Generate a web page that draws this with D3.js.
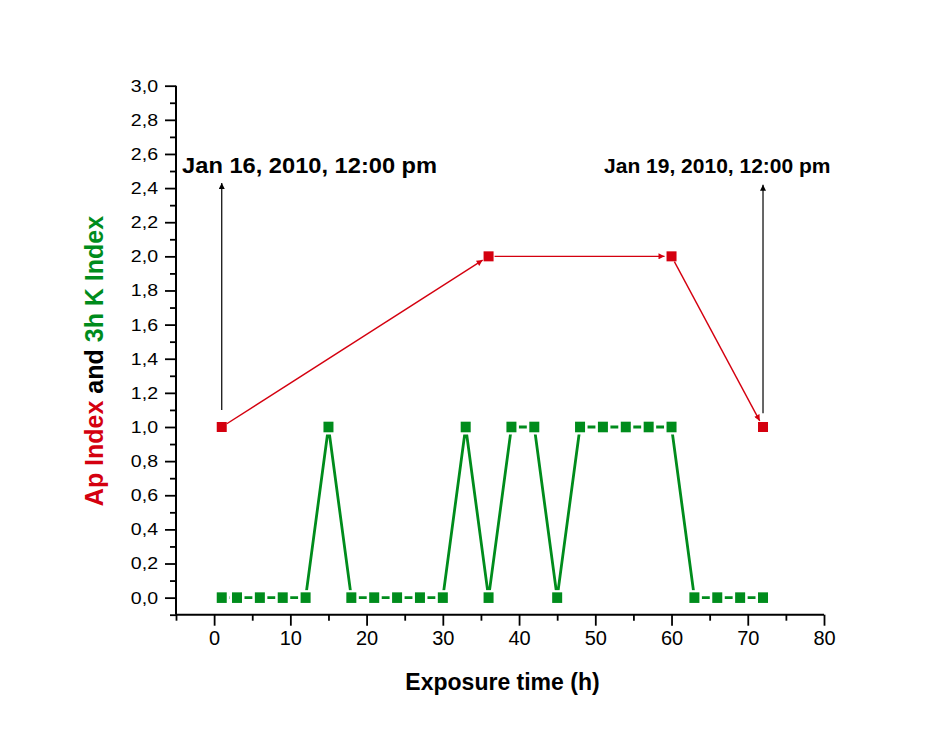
<!DOCTYPE html>
<html>
<head>
<meta charset="utf-8">
<script src="https://cdn.jsdelivr.net/npm/d3@7"></script>
<style>
  body { margin: 0; background: #fff; }
  svg { display: block; font-family: Arial, "Liberation Sans", sans-serif; }
</style>
</head>
<body>
<div id="chart"></div>
<script>
// 3h K index (green)
const kTime = [1, 3, 6, 9, 12, 15, 18, 21, 24, 27, 30, 33, 36, 39, 42, 45, 48, 51, 54, 57, 60, 63, 66, 69, 72];
const kIndex = [0, 0, 0, 0, 0, 1, 0, 0, 0, 0, 0, 1, 0, 1, 1, 0, 1, 1, 1, 1, 1, 0, 0, 0, 0];

// Ap index (red)
const apTime = [1, 36, 60, 72];
const apIndex = [1, 2, 2, 1];

// annotations (vertical arrows + dates)
const noteTime = [1, 72];
const noteFrom = [1.1, 1.08];
const noteTo = [2.43, 2.42];
const noteLabels = ["Jan 16, 2010, 12:00 pm", "Jan 19, 2010, 12:00 pm"];
const noteLabelX = [-4.2, 51.15];
const noteLabelY = 2.49;

// axis ticks
const xTicks = [0, 10, 20, 30, 40, 50, 60, 70, 80];
const xMinor = [-5, 5, 15, 25, 35, 45, 55, 65, 75];
const yTicks = [0, 0.2, 0.4, 0.6, 0.8, 1.0, 1.2, 1.4, 1.6, 1.8, 2.0, 2.2, 2.4, 2.6, 2.8, 3.0];
const yMinor = [-0.1, 0.1, 0.3, 0.5, 0.7, 0.9, 1.1, 1.3, 1.5, 1.7, 1.9, 2.1, 2.3, 2.5, 2.7, 2.9];

const W = 943, H = 734;
const RED = "#d4000f", GREEN = "#008c1c";

const svg = d3.select("#chart").append("svg")
    .attr("width", W).attr("height", H);

const x = d3.scaleLinear().domain([-5, 80]).range([176, 824]);
const y = d3.scaleLinear().domain([-0.1, 3.0]).range([614.7, 85.7]);

// arrow heads
const defs = svg.append("defs");
function arrowHead(id, color) {
    defs.append("marker")
        .attr("id", id)
        .attr("markerUnits", "userSpaceOnUse")
        .attr("viewBox", "0 0 10 10")
        .attr("refX", 10).attr("refY", 5)
        .attr("markerWidth", 8).attr("markerHeight", 6)
        .attr("orient", "auto")
        .append("path")
        .attr("d", "M0,0 L10,5 L0,10 Z")
        .attr("fill", color);
}
arrowHead("ahRed", RED);
arrowHead("ahBlack", "#000");

// axes
const comma = v => d3.format(".1f")(v).replace(".", ",");

const xAxis = svg.append("g").attr("transform", `translate(0,${y(-0.1)})`)
    .call(d3.axisBottom(x).tickValues(xTicks).tickSize(11).tickPadding(5).tickFormat(d3.format("d")));
svg.append("g").attr("transform", `translate(0,${y(-0.1)})`)
    .call(d3.axisBottom(x).tickValues(xMinor).tickSize(6).tickFormat(""))
    .select(".domain").remove();

const yAxis = svg.append("g").attr("transform", `translate(${x(-5)},0)`)
    .call(d3.axisLeft(y).tickValues(yTicks).tickSize(11).tickFormat(comma));
svg.append("g").attr("transform", `translate(${x(-5)},0)`)
    .call(d3.axisLeft(y).tickValues(yMinor).tickSize(6).tickFormat(""))
    .select(".domain").remove();

// plain axis lines, no end ticks
xAxis.select(".domain").attr("d", `M${x(-5)},0H${x(80)}`);
yAxis.select(".domain").attr("d", `M0,${y(3.0)}V${y(-0.1)}`);
svg.selectAll(".domain").attr("stroke", "#000").attr("stroke-width", 2);
svg.selectAll(".tick line").attr("stroke", "#000").attr("stroke-width", 1.8);

xAxis.selectAll(".tick text")
    .attr("font-size", 20).attr("fill", "#000")
    .attr("font-family", "Arial, 'Liberation Sans', sans-serif");

yAxis.selectAll(".tick text")
    .attr("font-size", 17).attr("fill", "#000")
    .attr("font-family", "Arial, 'Liberation Sans', sans-serif")
    .attr("transform", "scale(1.15,1)")
    .attr("x", -18 / 1.15);

// K index line with gaps round the markers
const kLine = d3.line().x((d, i) => x(kTime[i])).y(d => y(d));
svg.append("path")
    .datum(kIndex)
    .attr("d", kLine)
    .attr("fill", "none")
    .attr("stroke", GREEN)
    .attr("stroke-width", 2.8);

svg.selectAll(".kgap")
    .data(kIndex).enter().append("rect")
    .attr("x", (d, i) => x(kTime[i]) - 7.5)
    .attr("y", d => y(d) - 7.5)
    .attr("width", 15).attr("height", 15)
    .attr("fill", "#fff");

svg.selectAll(".kdot")
    .data(kIndex).enter().append("rect")
    .attr("x", (d, i) => x(kTime[i]) - 5)
    .attr("y", d => y(d) - 5.3)
    .attr("width", 10).attr("height", 10.6)
    .attr("fill", GREEN);

// Ap index: arrowed segments
for (let i = 0; i < apTime.length - 1; i++) {
    const x0 = x(apTime[i]), y0 = y(apIndex[i]);
    const x1 = x(apTime[i + 1]), y1 = y(apIndex[i + 1]);
    const len = Math.hypot(x1 - x0, y1 - y0);
    const ux = (x1 - x0) / len, uy = (y1 - y0) / len;
    svg.append("line")
        .attr("x1", x0 + ux * 6).attr("y1", y0 + uy * 6)
        .attr("x2", x1 - ux * 7).attr("y2", y1 - uy * 7)
        .attr("stroke", RED)
        .attr("stroke-width", 1.4)
        .attr("marker-end", "url(#ahRed)");
}

svg.selectAll(".apdot")
    .data(apIndex).enter().append("rect")
    .attr("x", (d, i) => x(apTime[i]) - 5)
    .attr("y", d => y(d) - 5)
    .attr("width", 10).attr("height", 10)
    .attr("fill", RED);

// annotation arrows and labels
noteTime.forEach((t, i) => {
    svg.append("line")
        .attr("x1", x(t)).attr("y1", y(noteFrom[i]))
        .attr("x2", x(t)).attr("y2", y(noteTo[i]))
        .attr("stroke", "#000")
        .attr("stroke-width", 1.2)
        .attr("marker-end", "url(#ahBlack)");
});

svg.append("text")
    .attr("x", x(noteLabelX[0])).attr("y", y(noteLabelY))
    .attr("font-size", 22).attr("font-weight", "bold")
    .attr("textLength", 255).attr("lengthAdjust", "spacingAndGlyphs")
    .text(noteLabels[0]);

svg.append("text")
    .attr("x", x(noteLabelX[1])).attr("y", y(noteLabelY))
    .attr("font-size", 21).attr("font-weight", "bold")
    .text(noteLabels[1]);

// axis titles
svg.append("text")
    .attr("x", 502.5).attr("y", 690)
    .attr("text-anchor", "middle")
    .attr("font-size", 23).attr("font-weight", "bold")
    .text("Exposure time (h)");

const yt = svg.append("text")
    .attr("transform", "translate(103,361) rotate(-90)")
    .attr("text-anchor", "middle")
    .attr("font-size", 25).attr("font-weight", "bold");
yt.append("tspan").attr("fill", RED).text("Ap Index ");
yt.append("tspan").attr("fill", "#000").text("and ");
yt.append("tspan").attr("fill", GREEN).text("3h K Index");
</script>
</body>
</html>
